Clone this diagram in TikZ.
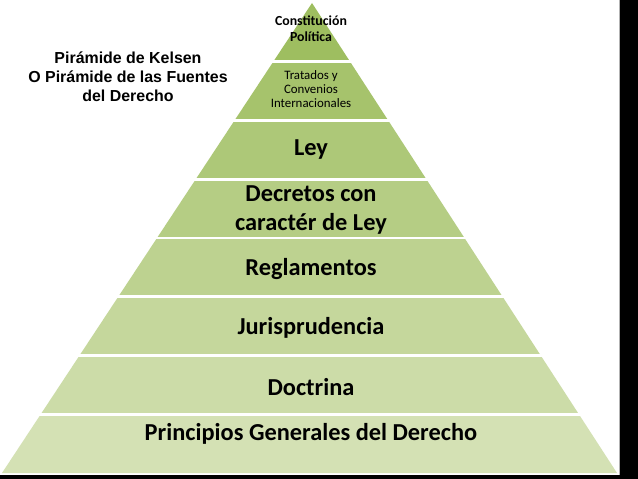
\documentclass[tikz,border=0pt]{standalone}
\usepackage{fontspec}
\usetikzlibrary{calc}
\setmainfont{Carlito}
\newfontfamily\titulofont{Liberation Sans}
\definecolor{capasup}{RGB}{158,190,96}
\definecolor{capainf}{RGB}{212,225,180}
\begin{document}
\begin{tikzpicture}[x=0.03cm, y=-0.03cm,
  capa/.style={font=\bfseries\fontsize{20.8}{24.6}\selectfont, align=center, inner sep=0pt},
  capachica/.style={font=\fontsize{11}{11.6}\selectfont, align=center, inner sep=0pt}]
\useasboundingbox (0,0) rectangle (638,479);
\fill[white] (0,0) rectangle (638,479);
% marco negro
\fill[black] (620,0) rectangle (638,479);
\fill[black] (0,475) rectangle (638,479);
\draw[gray!60, line width=0.6] (619,0) -- (619,475);

% capas de la piramide
\coordinate (apice) at (312,3);
\coordinate (izq) at (2,473);
\coordinate (der) at (617,473);
\foreach \i in {0,...,7}{
  \pgfmathsetmacro{\pct}{100*\i/7}
  \pgfmathsetmacro{\ta}{\i/8}
  \pgfmathsetmacro{\tb}{(\i+1)/8}
  \colorlet{tono}{capainf!\pct!capasup}
  \fill[tono] ($(apice)!\ta!(izq)$) -- ($(apice)!\tb!(izq)$) -- ($(apice)!\tb!(der)$) -- ($(apice)!\ta!(der)$) -- cycle;
}
\foreach \i in {1,...,7}{
  \pgfmathsetmacro{\ta}{\i/8}
  \draw[white, line width=2.4] ($(apice)!\ta!(izq)+(-3,0)$) -- ($(apice)!\ta!(der)+(3,0)$);
}

\node[font=\titulofont\bfseries\fontsize{13.6}{16.2}\selectfont, align=center] (titulo) at (128,77)
  {Pirámide de Kelsen\\O Pirámide de las Fuentes\\del Derecho};

\node[capachica, font=\bfseries\fontsize{11.8}{13.6}\selectfont] (constitucion) at (311,29) {Constitución\\Política};
\node[capachica] (tratados) at (311,89) {Tratados y\\Convenios\\Internacionales};
\node[capa] (ley) at (311,150) {Ley};
\node[capa] (decretos) at (311,210) {Decretos con\\caractér de Ley};
\node[capa] (reglamentos) at (311,269) {Reglamentos};
\node[capa] (jurisprudencia) at (311,328) {Jurisprudencia};
\node[capa] (doctrina) at (311,387) {Doctrina};
\node[capa] (principios) at (311,434) {Principios Generales del Derecho};
\end{tikzpicture}
\end{document}
